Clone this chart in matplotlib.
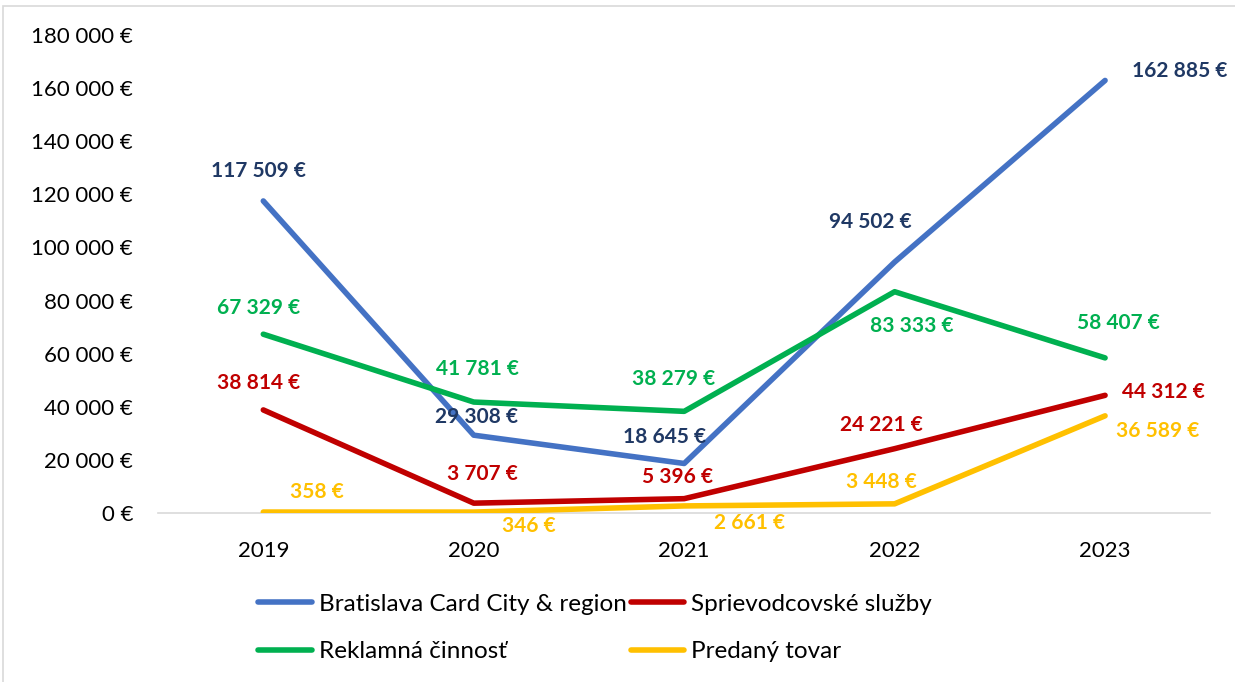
import matplotlib
matplotlib.use("Agg")
import matplotlib.pyplot as plt
from matplotlib.patches import Rectangle

years = ["2019", "2020", "2021", "2022", "2023"]
card = [117509, 29308, 18645, 94502, 162885]
guide = [38814, 3707, 5396, 24221, 44312]
ads = [67329, 41781, 38279, 83333, 58407]
goods = [358, 346, 2661, 3448, 36589]
names = ["Bratislava Card City & region", "Sprievodcovské služby", "Reklamná činnosť", "Predaný tovar"]
yticks = list(range(0, 180001, 20000))

def eur(v):
    return f"{v:,}".replace(",", " ") + " €"

plt.rcParams['font.family'] = ['Lato', 'DejaVu Sans']

fig = plt.figure(figsize=(12.35, 6.82), dpi=100)
ax = fig.add_axes([0.128, 1 - 513 / 682, 0.852, (513 - 35) / 682])

series = [
    (card, "#4472C4", "#1F3864", [(-5, 30), (3, 18), (-20, 26), (-24, 40), (75, 9)]),
    (guide, "#C00000", "#C00000", [(-5, 27), (9, 29), (-7, 22), (-13, 24), (58, 3)]),
    (ads, "#00B050", "#00B050", [(-5, 26), (4, 33), (-11, 32), (17, -34), (13, 35)]),
    (goods, "#FFC000", "#FFC000", [(54, 20), (55, -14), (65, -17), (-13, 22), (53, -15)]),
]
x = list(range(len(years)))
handles = []
for vals, lc, tc, offs in series:
    ln, = ax.plot(x, vals, color=lc, lw=4, solid_capstyle="round", solid_joinstyle="round", zorder=3)
    handles.append(ln)
    for xi, v, (dx, dy) in zip(x, vals, offs):
        ax.annotate(eur(v), (xi, v), xytext=(dx * 0.72, dy * 0.72), textcoords="offset points",
                    ha="center", va="center", color=tc, fontsize=15, fontweight="bold", zorder=4)

ax.set_xlim(-0.5, 4.5)
ax.set_ylim(0, 180000)
ax.set_xticks(x)
ax.set_xticklabels(years)
ax.set_yticks(yticks)
ax.set_yticklabels([eur(v) for v in yticks])
for s in ["top", "right", "left"]:
    ax.spines[s].set_visible(False)
ax.spines["bottom"].set_color("#D9D9D9")
ax.spines["bottom"].set_linewidth(1.2)
ax.tick_params(axis="both", length=0, labelsize=16, colors="black")
ax.tick_params(axis="x", pad=20)
ax.tick_params(axis="y", pad=18)
ax.patch.set_alpha(0)

order = [0, 2, 1, 3]
leg = fig.legend([handles[i] for i in order], [names[i] for i in order], ncol=2,
                 loc="center", bbox_to_anchor=(0.482, 1 - 628 / 682), frameon=False,
                 fontsize=17.5, handlelength=2.2, handletextpad=0.3, columnspacing=0.15,
                 labelspacing=1.1)

fig.patches.append(Rectangle((3 / 1235, -0.01), 1.5, 1 - 6 / 682 + 0.01, transform=fig.transFigure,
                             fill=False, edgecolor="#D9D9D9", lw=1.2))

fig.savefig("out.png", dpi=100)
